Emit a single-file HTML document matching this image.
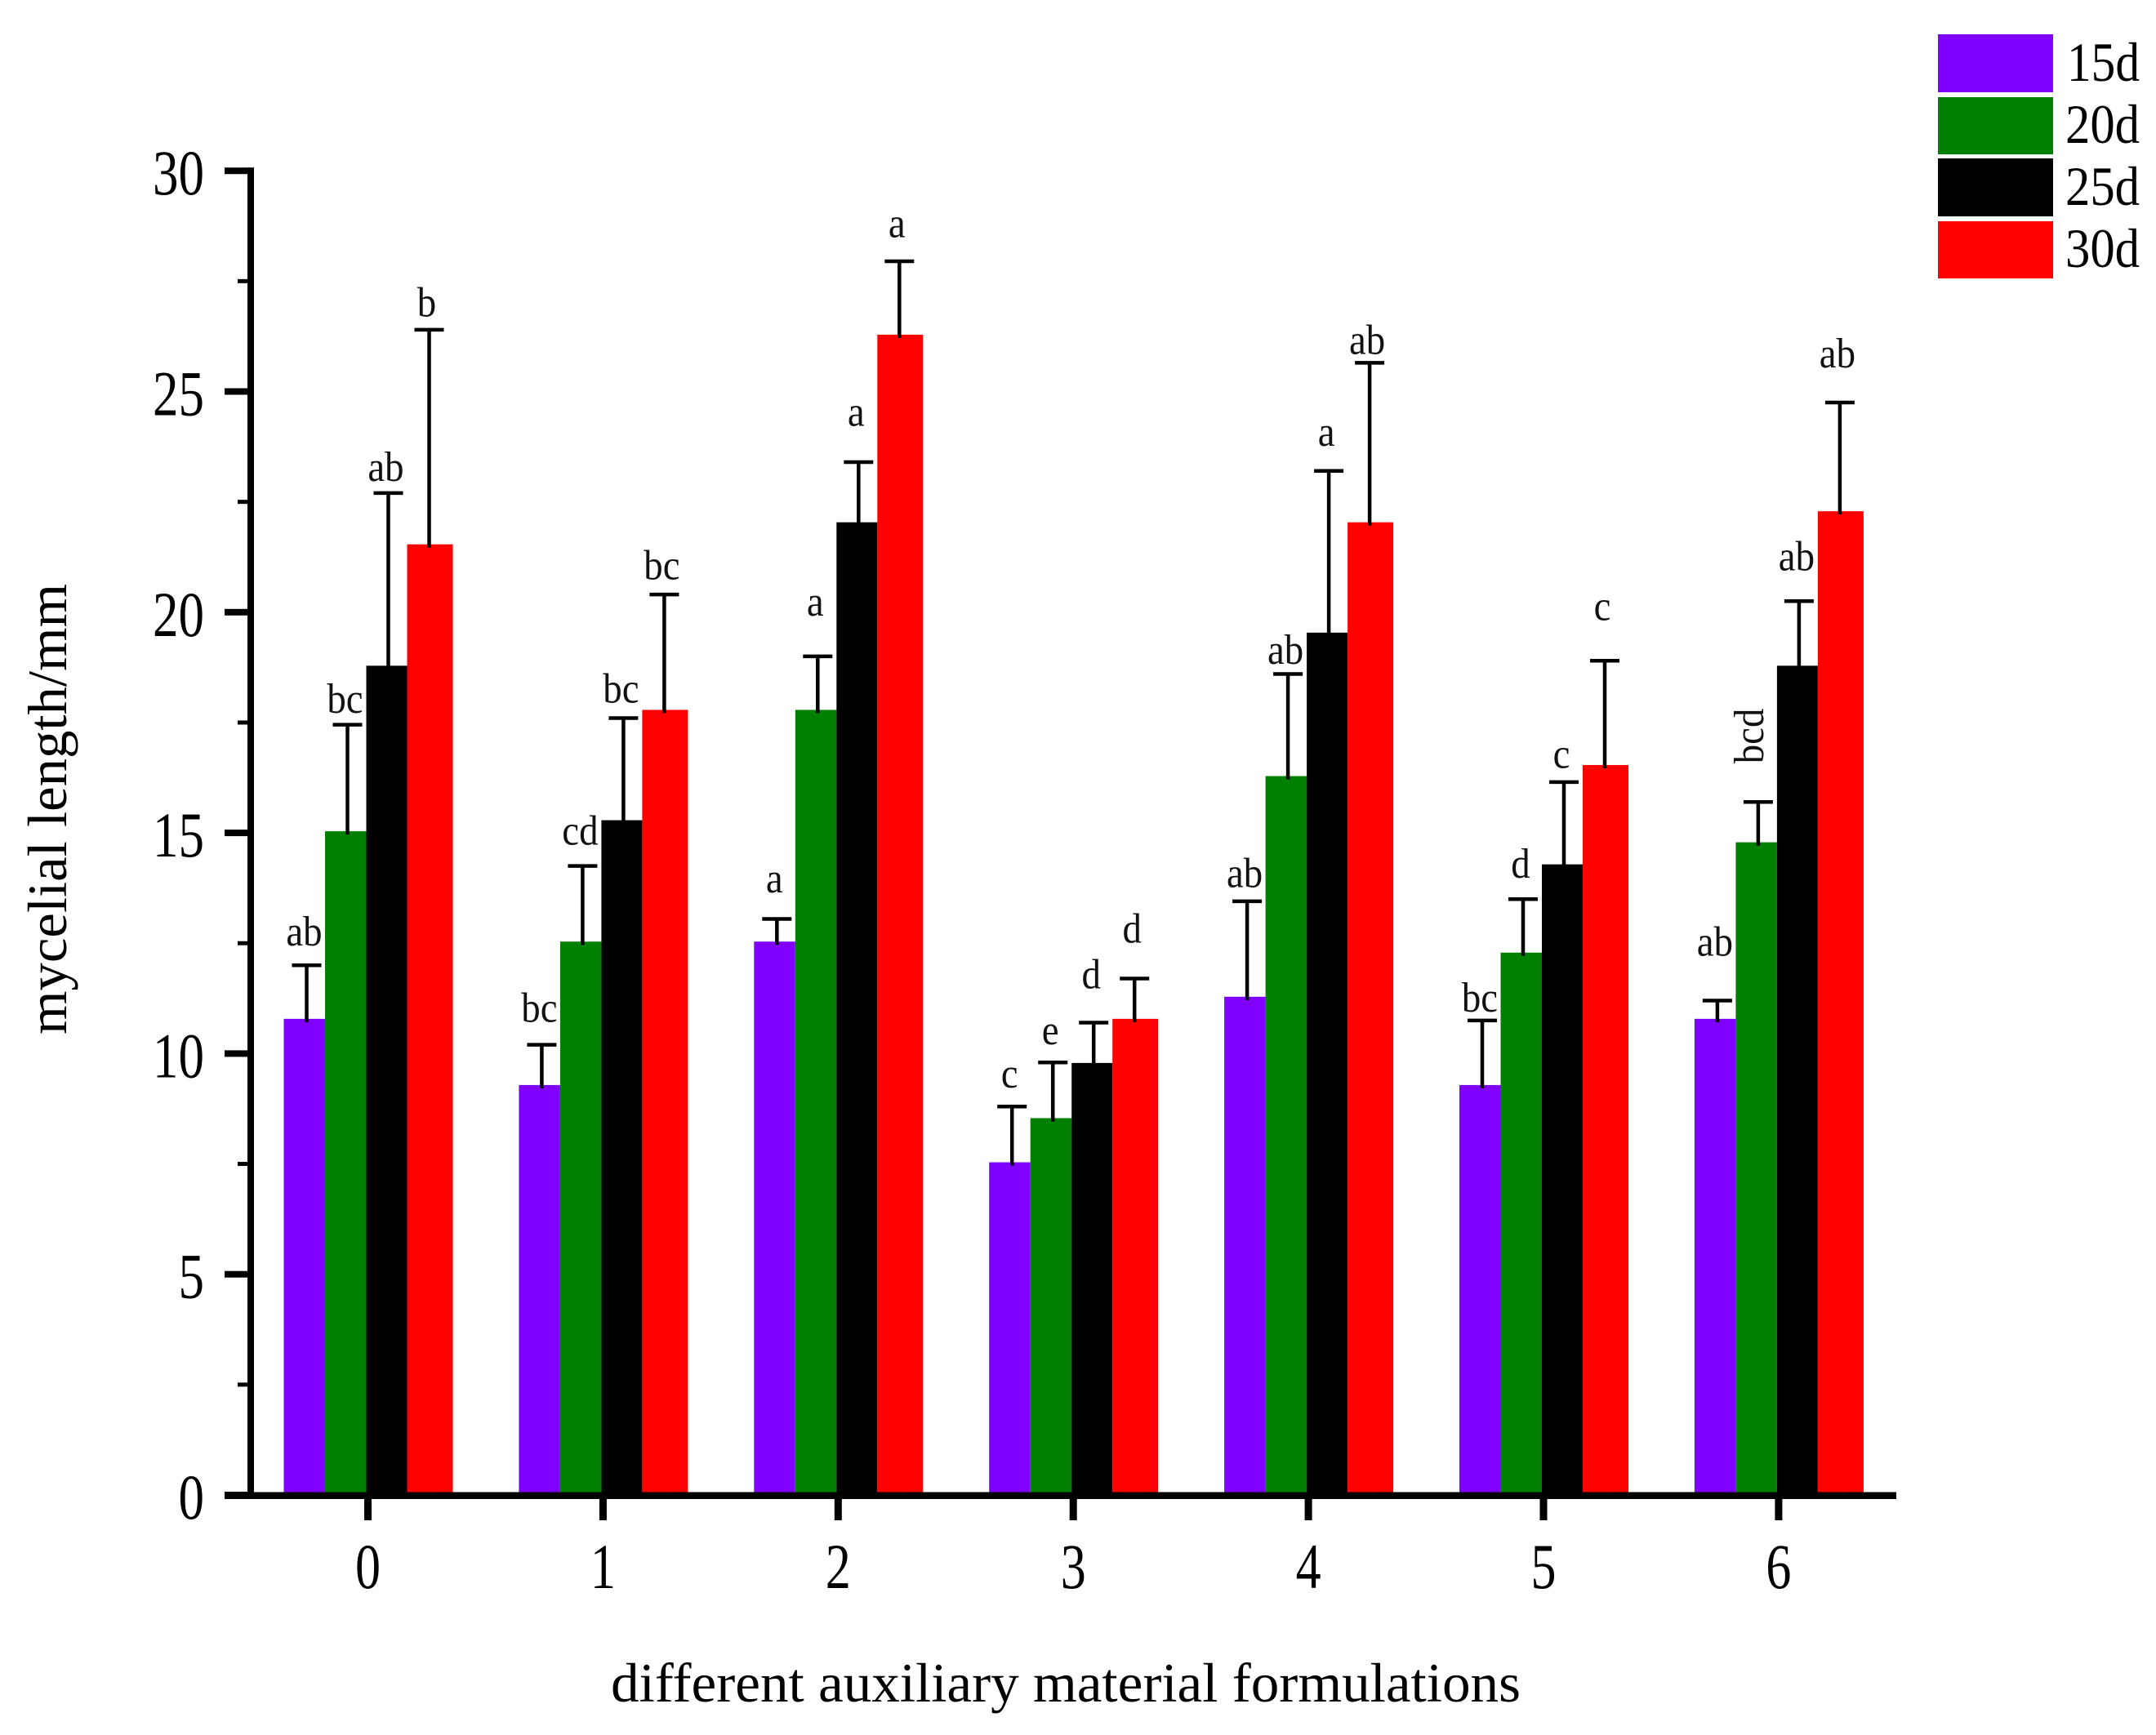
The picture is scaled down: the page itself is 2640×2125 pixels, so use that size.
<!DOCTYPE html>
<html lang="en">
<head>
<meta charset="utf-8">
<title>Mycelial length by auxiliary material formulation</title>
<style>
  html, body { margin: 0; padding: 0; background: #fff; }
  svg { display: block; font-family: "Liberation Serif", "Noto Serif CJK SC", serif; fill: #000; }
</style>
</head>
<body>
<svg id="chart" xmlns="http://www.w3.org/2000/svg" width="2640" height="2125" viewBox="0 0 2640 2125">
  <rect x="0" y="0" width="2640" height="2125" fill="#ffffff"/>
  <g id="bars"></g>
  <g id="errors"></g>
  <g id="labels"></g>
  <g id="axes"></g>
  <text transform="translate(81,991) rotate(-90)" text-anchor="middle" font-size="68" textLength="552" lengthAdjust="spacingAndGlyphs">mycelial length/mm</text>
  <text x="1305" y="2084" text-anchor="middle" font-size="68" textLength="1114" lengthAdjust="spacingAndGlyphs">different auxiliary material formulations</text>
  <g>
    <g>
      <rect x="2373" y="42" width="141" height="71" fill="#8000ff"/>
      <text x="2531" y="99" font-size="68" textLength="89" lengthAdjust="spacingAndGlyphs">15d</text>
    </g>
    <g>
      <rect x="2373" y="119" width="141" height="70" fill="#008000"/>
      <text x="2529" y="175" font-size="68" textLength="91" lengthAdjust="spacingAndGlyphs">20d</text>
    </g>
    <g>
      <rect x="2373" y="194" width="141" height="71" fill="#000000"/>
      <text x="2529" y="251" font-size="68" textLength="91" lengthAdjust="spacingAndGlyphs">25d</text>
    </g>
    <g>
      <rect x="2373" y="271" width="141" height="70" fill="#ff0000"/>
      <text x="2529" y="327" font-size="68" textLength="91" lengthAdjust="spacingAndGlyphs">30d</text>
    </g>
  </g>
</svg>
<script>
const categories = ['0', '1', '2', '3', '4', '5', '6'];
const seriesNames = ['15d', '20d', '25d', '30d'];
const seriesColors = ['#8000ff', '#008000', '#000000', '#ff0000'];
const values15d = [10.75, 9.25, 12.5, 7.5, 11.25, 9.25, 10.75];
const values20d = [15, 12.5, 17.75, 8.5, 16.25, 12.25, 14.75];
const values25d = [18.75, 15.25, 22, 9.75, 19.5, 14.25, 18.75];
const values30d = [21.5, 17.75, 26.25, 10.75, 22, 16.5, 22.25];
const errorTop15d = [12, 10.2, 13.05, 8.8, 13.45, 10.75, 11.2];
const errorTop20d = [17.45, 14.25, 19, 9.8, 18.6, 13.5, 15.7];
const errorTop25d = [22.7, 17.6, 23.4, 10.7, 23.2, 16.15, 20.25];
const errorTop30d = [26.4, 20.4, 27.95, 11.7, 25.65, 18.9, 24.75];
const letters15d = ['ab', 'bc', 'a', 'c', 'ab', 'bc', 'ab'];
const letters20d = ['bc', 'cd', 'a', 'e', 'ab', 'd', 'bcd'];
const letters25d = ['ab', 'bc', 'a', 'd', 'a', 'c', 'ab'];
const letters30d = ['b', 'bc', 'a', 'd', 'ab', 'c', 'ab'];
const letterGap15d = [0.45, 0.52, 0.6, 0.43, 0.32, 0.2, 1.02];
const letterGap20d = [0.27, 0.48, 0.92, 0.41, 0.23, 0.48, 0.87];
const letterGap25d = [0.27, 0.35, 0.82, 0.78, 0.57, 0.32, 0.7];
const letterGap30d = [0.3, 0.35, 0.55, 0.81, 0.2, 0.92, 0.8];
const yTickValues = [0, 5, 10, 15, 20, 25, 30];
const yMinorTickValues = [2.5, 7.5, 12.5, 17.5, 22.5, 27.5];
const yTickLabels = ['0', '5', '10', '15', '20', '25', '30'];

const valueSets = [values15d, values20d, values25d, values30d];
const errorSets = [errorTop15d, errorTop20d, errorTop25d, errorTop30d];
const letterSets = [letters15d, letters20d, letters25d, letters30d];
const gapSets = [letterGap15d, letterGap20d, letterGap25d, letterGap30d];

const SVG_NS = 'http://www.w3.org/2000/svg';
const yZero = 1831, yPerUnit = 54.06;
const xStart = 450.5, xStep = 287.9;
function yScale(v) { return yZero - v * yPerUnit; }
function xCenter(i) { return xStart + i * xStep; }
function barLeft(i, s) { return xCenter(i) + [-103, -52.5, -2, 48][s]; }
function barRight(i, s) { return xCenter(i) + [-52.5, -2, 48, 104][s]; }
function errorX(i, s) { return xCenter(i) - 75 + s * 50; }
function make(tag, attrs, parent) {
  const n = document.createElementNS(SVG_NS, tag);
  for (const k in attrs) n.setAttribute(k, attrs[k]);
  parent.appendChild(n);
  return n;
}

const barsLayer = document.getElementById('bars');
const errorsLayer = document.getElementById('errors');
const labelsLayer = document.getElementById('labels');
const axesLayer = document.getElementById('axes');

categories.forEach(function (cat, i) {
  seriesNames.forEach(function (name, s) {
    const val = valueSets[s][i];
    const top = errorSets[s][i];
    const bar = make('rect', { x: barLeft(i, s), y: yScale(val) - 2, width: barRight(i, s) - barLeft(i, s), height: yZero - yScale(val) + 2, fill: seriesColors[s] }, barsLayer);
    
    

    const ex = errorX(i, s);
    const stem = make('line', { x1: ex, x2: ex, y1: yScale(val) + 2, y2: yScale(top), stroke: '#000', 'stroke-width': 4.5 }, errorsLayer);
    
    
    const cap = make('line', { x1: ex - 18, x2: ex + 18, y1: yScale(top), y2: yScale(top), stroke: '#000', 'stroke-width': 4.5 }, errorsLayer);
    
    

    const word = letterSets[s][i];
    const baseY = yScale(top + gapSets[s][i]);
    let label;
    if (word.length > 2) {
      label = make('text', { transform: 'translate(' + (ex + 6) + ',' + baseY + ') rotate(-90)', 'text-anchor': 'start', 'font-size': 52, fill: '#111' }, labelsLayer);
    } else {
      label = make('text', { x: ex - 3, y: baseY, 'text-anchor': 'middle', 'font-size': 52, fill: '#111' }, labelsLayer);
    }
    
    
    label.textContent = word;
    label.setAttribute('textLength', String(label.getComputedTextLength() * 0.9));
    label.setAttribute('lengthAdjust', 'spacingAndGlyphs');
  });

  const tick = make('rect', { x: xCenter(i) - 4.5, y: 1832, width: 9, height: 30, fill: '#000' }, axesLayer);
  
  
  const tickLabel = make('text', { x: xCenter(i), y: 1945, 'text-anchor': 'middle', 'font-size': 78 }, axesLayer);
  
  
  tickLabel.setAttribute('textLength', '31');
  tickLabel.setAttribute('lengthAdjust', 'spacingAndGlyphs');
  tickLabel.textContent = cat;
});

const yAxisLine = make('rect', { x: 303, y: yScale(30) - 4, width: 8, height: yZero - yScale(30) + 5, fill: '#000' }, axesLayer);


const xAxisLine = make('rect', { x: 275, y: 1827.5, width: 2047, height: 8.5, fill: '#000' }, axesLayer);



yTickValues.forEach(function (v, k) {
  const tick = make('rect', { x: 275, y: yScale(v) - 4, width: 32, height: 8, fill: '#000' }, axesLayer);
  
  
  const text = make('text', { x: 250, y: yScale(v) + 29, 'text-anchor': 'end', 'font-size': 78 }, axesLayer);
  
  
  text.setAttribute('textLength', String(yTickLabels[k].length * 31.5));
  text.setAttribute('lengthAdjust', 'spacingAndGlyphs');
  text.textContent = yTickLabels[k];
});
yMinorTickValues.forEach(function (v) {
  const tick = make('rect', { x: 291, y: yScale(v) - 2.5, width: 16, height: 5, fill: '#000' }, axesLayer);
  
  
});
</script>
</body>
</html>
